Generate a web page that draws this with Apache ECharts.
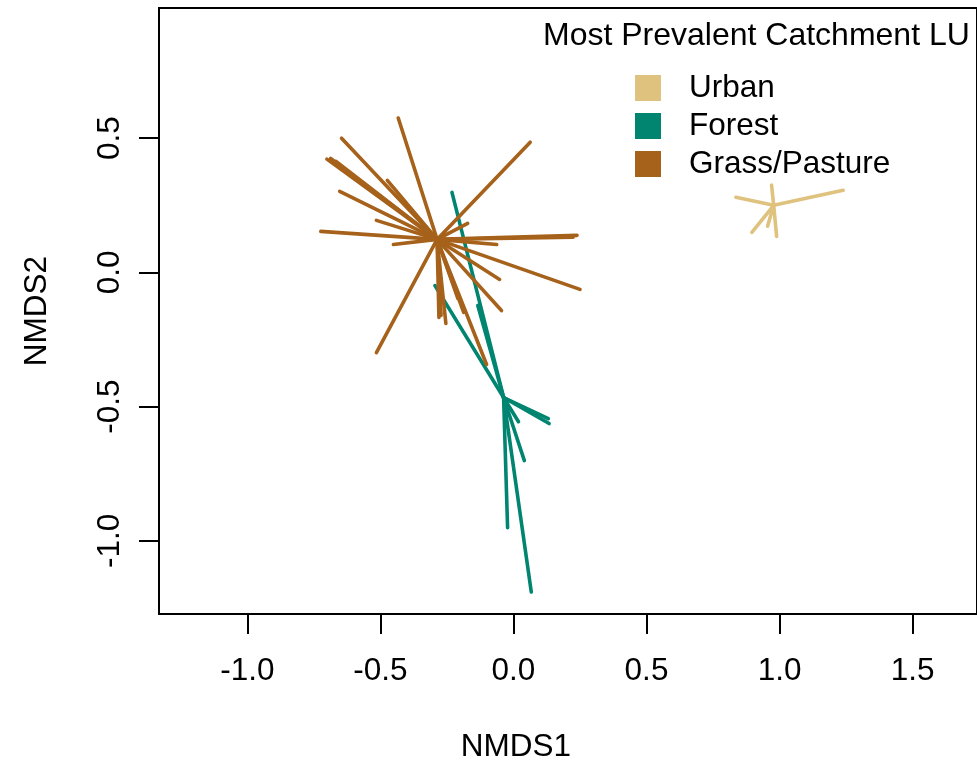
<!DOCTYPE html>
<html>
<head>
<meta charset="utf-8">
<script src="https://cdn.jsdelivr.net/npm/echarts@6/dist/echarts.min.js"></script>
<style>
  html, body { margin: 0; padding: 0; background: #fff; }
  #chart { width: 977px; height: 768px; }
</style>
</head>
<body>
<div id="chart"></div>
<script>
// group names, in legend order
var groups = ['Urban', 'Forest', 'Grass/Pasture']

// spider centres (NMDS1, NMDS2)
var urbanCentre = [0.978, 0.25]
var forestCentre = [-0.037, -0.466]
var grassCentre = [-0.287, 0.123]

// site scores, one pair of arrays per group
var urbanX = [0.836, 0.970, 1.239, 0.896, 0.955, 0.989]
var urbanY = [0.280, 0.325, 0.306, 0.149, 0.172, 0.134]

var forestX = [-0.231, -0.295, -0.134, 0.131, 0.134, 0.019, 0.041, -0.022, 0.067]
var forestY = [0.298, -0.049, -0.123, -0.545, -0.563, -0.556, -0.701, -0.951, -1.190]

var grassX = [-0.433, -0.646, -0.701, -0.687, -0.668, -0.474, -0.653, -0.515, -0.724, -0.451,
  0.063, -0.172, 0.239, 0.224, -0.063, 0.250, -0.052, -0.045, -0.515, -0.272,
  -0.254, -0.187, -0.101, -0.209, -0.280]
var grassY = [0.575, 0.500, 0.422, 0.425, 0.414, 0.343, 0.302, 0.194, 0.153, 0.104,
  0.485, 0.183, 0.138, 0.131, 0.104, -0.063, -0.026, -0.142, -0.299, -0.160,
  -0.190, -0.149, -0.343, -0.097, -0.168]

var xTicks = [-1.0, -0.5, 0.0, 0.5, 1.0, 1.5]
var yTicks = [-1.0, -0.5, 0.0, 0.5]

var colors = {
  'Urban': '#DFC27D',
  'Forest': '#018571',
  'Grass/Pasture': '#A6611A'
}

var font = 'Liberation Sans'

// one segment from the centre to every site
function spider(centre, xs, ys) {
  var out = []
  for (var i = 0; i < xs.length; i++) {
    out.push({ coords: [centre, [xs[i], ys[i]]] })
  }
  return out
}

function spiderSeries(name, centre, xs, ys) {
  return {
    name: name,
    type: 'lines',
    coordinateSystem: 'cartesian2d',
    polyline: false,
    silent: true,
    color: colors[name],
    lineStyle: { color: colors[name], width: 3.6, opacity: 1, cap: 'round' },
    data: spider(centre, xs, ys)
  }
}

var chart = echarts.init(document.getElementById('chart'))

var option = {
  animation: false,
  title: {
    text: 'Most Prevalent Catchment LU',
    left: 543,
    top: 20,
    padding: 0,
    textStyle: { fontFamily: font, fontSize: 32, fontWeight: 'normal', color: '#000', lineHeight: 32 }
  },
  legend: {
    orient: 'vertical',
    left: 635,
    top: 72,
    padding: 0,
    itemWidth: 24,
    itemHeight: 24,
    itemGap: 6,
    icon: 'rect',
    data: groups.map(function (g) {
      return { name: g, icon: 'rect', itemStyle: { color: colors[g] } }
    }),
    textStyle: { fontFamily: font, fontSize: 31.5, color: '#000', lineHeight: 24, padding: [0, 0, 0, 24] }
  },
  grid: {
    left: 159,
    top: 8,
    bottom: 154,
    right: -6,
    show: true,
    borderColor: '#000',
    borderWidth: 2,
    backgroundColor: 'transparent'
  },
  xAxis: {
    type: 'value',
    min: -1.332,
    max: 1.742,
    axisLine: { show: false, onZero: false },
    splitLine: { show: false },
    axisTick: {
      show: true, length: 20, customValues: xTicks,
      lineStyle: { color: '#000', width: 2 }
    },
    axisLabel: {
      customValues: xTicks,
      margin: 41,
      fontFamily: font,
      fontSize: 31.5,
      color: '#000',
      formatter: function (v) { return v.toFixed(1) }
    }
  },
  yAxis: {
    type: 'value',
    min: -1.2724,
    max: 0.985,
    axisLine: { show: false, onZero: false },
    splitLine: { show: false },
    axisTick: {
      show: true, length: 20, customValues: yTicks,
      lineStyle: { color: '#000', width: 2 }
    },
    axisLabel: {
      customValues: yTicks,
      rotate: 90,
      margin: 33,
      fontFamily: font,
      fontSize: 31.5,
      color: '#000',
      formatter: function (v) { return v.toFixed(1) }
    }
  },
  graphic: [
    {
      type: 'text',
      x: 516,
      y: 747,
      style: { text: 'NMDS1', font: '31.5px "' + font + '"', fill: '#000', align: 'center', verticalAlign: 'middle' }
    },
    {
      type: 'text',
      x: 37,
      y: 311,
      rotation: Math.PI / 2,
      style: { text: 'NMDS2', font: '31.5px "' + font + '"', fill: '#000', align: 'center', verticalAlign: 'middle' }
    }
  ],
  series: [
    spiderSeries('Forest', forestCentre, forestX, forestY),
    spiderSeries('Urban', urbanCentre, urbanX, urbanY),
    spiderSeries('Grass/Pasture', grassCentre, grassX, grassY)
  ]
}

chart.setOption(option)
</script>
</body>
</html>
